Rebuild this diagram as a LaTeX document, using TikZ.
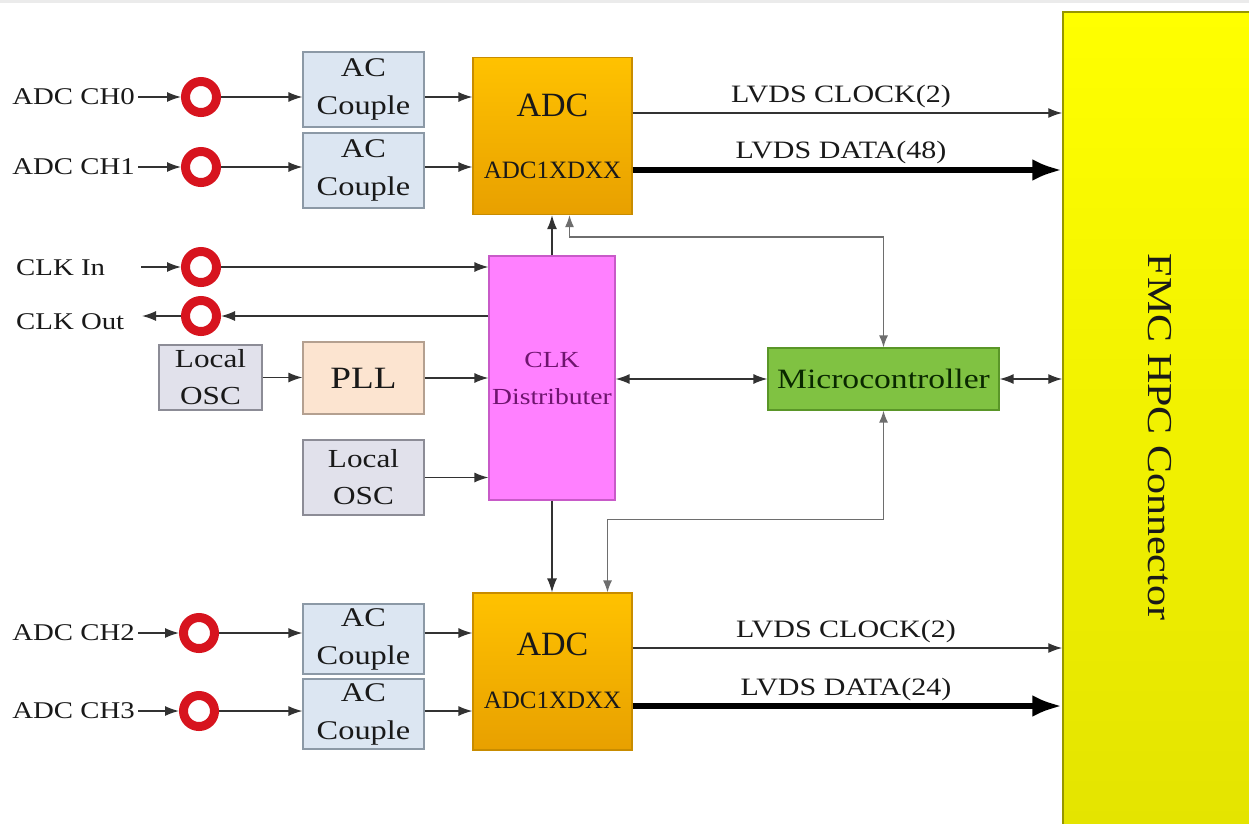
\documentclass[tikz,border=0pt]{standalone}
\usepackage{fontspec}
\setmainfont[FakeStretch=1.2]{Liberation Serif}
\newfontfamily\adcfont{Liberation Serif}
\usetikzlibrary{arrows.meta,calc}
\definecolor{acfill}{RGB}{220,230,242}
\definecolor{acborder}{RGB}{140,153,166}
\definecolor{lofill}{RGB}{225,225,235}
\definecolor{loborder}{RGB}{140,140,150}
\definecolor{pllfill}{RGB}{252,228,208}
\definecolor{pllborder}{RGB}{180,160,144}
\definecolor{adctop}{RGB}{255,194,0}
\definecolor{adcbot}{RGB}{232,160,0}
\definecolor{adcborder}{RGB}{200,140,0}
\definecolor{clkfill}{RGB}{255,128,255}
\definecolor{clkborder}{RGB}{200,90,200}
\definecolor{clktext}{RGB}{110,20,110}
\definecolor{mcufill}{RGB}{128,194,66}
\definecolor{mcuborder}{RGB}{90,150,40}
\definecolor{mcutext}{RGB}{10,40,0}
\definecolor{fmctop}{RGB}{255,255,0}
\definecolor{fmcbot}{RGB}{228,228,0}
\definecolor{fmcborder}{RGB}{150,150,0}
\definecolor{ringred}{RGB}{215,20,30}
\definecolor{txt}{RGB}{25,25,25}
\definecolor{linecol}{RGB}{50,50,50}
\definecolor{ctrlline}{RGB}{110,110,110}
\begin{document}
\begin{tikzpicture}[x=1pt,y=-1pt,
  box/.style={draw, line width=1.2pt, inner sep=0pt, align=center, text=txt},
  acbox/.style={box, draw=acborder, fill=acfill, minimum width=121pt, font=\fontsize{27}{38}\selectfont},
  lobox/.style={box, draw=loborder, fill=lofill, font=\fontsize{26}{37}\selectfont},
  adcbox/.style={box, draw=adcborder, top color=adctop, bottom color=adcbot, minimum width=159pt, minimum height=157pt},
  adctxt/.style={inner sep=0pt, text=txt},
  ring/.style={circle, draw=ringred, line width=9pt, fill=white, minimum size=31pt, inner sep=0pt},
  lbl/.style={inner sep=0pt, text=txt, font=\fontsize{24}{29}\selectfont},
  lvds/.style={inner sep=0pt, text=txt, font=\fontsize{25}{30}\selectfont},
  arr/.style={draw=linecol, line width=1.4pt, -{Latex[length=14pt,width=10pt]}},
  darr/.style={draw=linecol, line width=1.4pt, {Latex[length=14pt,width=10pt]}-{Latex[length=14pt,width=10pt]}},
  carr/.style={draw=ctrlline, line width=1.3pt, {Latex[length=12pt,width=9pt]}-{Latex[length=12pt,width=9pt]}},
  fatarr/.style={draw=black, line width=6pt, -{Latex[length=30pt,width=22pt]}}
]
\useasboundingbox (0,0) rectangle (1249,823);
\fill[white] (0,0) rectangle (1249,823);
\fill[black!8] (0,0) rectangle (1249,3);

% FMC connector
\node[draw=fmcborder, line width=1.5pt, top color=fmctop, bottom color=fmcbot, minimum width=189pt, minimum height=814pt, inner sep=0pt] (fmc) at (1157.5,419) {};
\node[rotate=-90, inner sep=0pt, text=txt, font=\fontsize{35}{40}\selectfont] (fmct) at (1160,437) {FMC HPC Connector};

% ADC boxes
\node[adcbox] (adc1) at (552.5,136) {};
\node[adctxt, font=\adcfont\fontsize{34}{40}\selectfont] (adc1a) at (552.5,105) {ADC};
\node[adctxt, font=\adcfont\fontsize{25}{30}\selectfont] (adc1b) at (552.5,170) {ADC1XDXX};
\node[adcbox] (adc2) at (552.5,671.5) {};
\node[adctxt, font=\adcfont\fontsize{34}{40}\selectfont] (adc2a) at (552.5,644) {ADC};
\node[adctxt, font=\adcfont\fontsize{25}{30}\selectfont] (adc2b) at (552.5,700) {ADC1XDXX};

% AC couple boxes
\node[acbox, minimum height=75pt] (ac1) at (363.5,89.5) {AC\\Couple};
\node[acbox, minimum height=75pt] (ac2) at (363.5,170.5) {AC\\Couple};
\node[acbox, minimum height=70pt] (ac3) at (363.5,639) {AC\\Couple};
\node[acbox, minimum height=70pt] (ac4) at (363.5,714) {AC\\Couple};

% clock section
\node[box, draw=clkborder, fill=clkfill, minimum width=126pt, minimum height=244pt, text=clktext, font=\fontsize{23}{37}\selectfont] (clk) at (552,378) {CLK\\Distributer};
\node[lobox, minimum width=103pt, minimum height=65pt] (lo1) at (210.5,377.5) {Local\\OSC};
\node[box, draw=pllborder, fill=pllfill, minimum width=121pt, minimum height=72pt, font=\fontsize{31}{36}\selectfont] (pll) at (363.5,378) {PLL};
\node[lobox, minimum width=121pt, minimum height=75pt] (lo2) at (363.5,477.5) {Local\\OSC};
\node[box, draw=mcuborder, fill=mcufill, minimum width=231pt, minimum height=62pt, text=mcutext, font=\fontsize{28}{33}\selectfont] (mcu) at (883.5,379) {Microcontroller};

% rings
\node[ring] (r0) at (201,97) {};
\node[ring] (r1) at (201,167) {};
\node[ring] (rin) at (201,267) {};
\node[ring] (rout) at (201,316) {};
\node[ring] (r2) at (199,633) {};
\node[ring] (r3) at (199,711) {};

% labels
\node[lbl, anchor=east] (l0) at (135,97) {ADC CH0};
\node[lbl, anchor=east] (l1) at (135,167) {ADC CH1};
\node[lbl, anchor=west] (lin) at (16,268) {CLK In};
\node[lbl, anchor=west] (lout) at (16,322) {CLK Out};
\node[lbl, anchor=east] (l2) at (135,633) {ADC CH2};
\node[lbl, anchor=east] (l3) at (135,711) {ADC CH3};
\coordinate (inStart) at (141,267);
\coordinate (outEnd) at (142,316);

% LVDS labels
\node[lvds] (t1) at (841,96) {LVDS CLOCK(2)};
\node[lvds] (t2) at (841,152) {LVDS DATA(48)};
\node[lvds] (t3) at (846,631) {LVDS CLOCK(2)};
\node[lvds] (t4) at (846,689) {LVDS DATA(24)};
\coordinate (yc1) at (0,113);
\coordinate (yd1) at (0,170);
\coordinate (yc2) at (0,648);
\coordinate (yd2) at (0,706);

% input arrows
\foreach \l/\r/\a/\d in {l0/r0/ac1/adc1, l1/r1/ac2/adc1, l2/r2/ac3/adc2, l3/r3/ac4/adc2}{
  \draw[arr] ([xshift=3pt]\l.east) -- (\r.west);
  \draw[arr] (\r.east) -- (\r.east -| \a.west);
  \draw[arr] (\a.east |- \r) -- (\d.west |- \r);
}

% clock in / out
\draw[arr] (inStart) -- (rin.west);
\draw[arr] (rin.east) -- (rin.east -| clk.west);
\draw[arr] (rout.east -| clk.west) -- (rout.east);
\draw[arr] (rout.west) -- (outEnd);
\draw[arr] (lo1.east) -- (lo1.east -| pll.west);
\draw[arr] (pll.east) -- (pll.east -| clk.west);
\draw[arr] (lo2.east) -- (lo2.east -| clk.west);

% clock to ADCs
\draw[arr] (clk.north) -- (clk.north |- adc1.south);
\draw[arr] (clk.south) -- (clk.south |- adc2.north);

% microcontroller links
\draw[darr] (clk.east |- mcu.west) -- (mcu.west);
\draw[darr] (mcu.east) -- (mcu.east -| fmc.west);
\draw[carr] (mcu.north) |- ($(adc1.south)+(17,22)$) -- ($(adc1.south)+(17,0)$);
\draw[carr] (mcu.south) |- ($(adc2.north)+(55,-73)$) -- ($(adc2.north)+(55,0)$);

% LVDS outputs
\draw[arr] (adc1.east |- yc1) -- (fmc.west |- yc1);
\draw[fatarr] (adc1.east |- yd1) -- (fmc.west |- yd1);
\draw[arr] (adc2.east |- yc2) -- (fmc.west |- yc2);
\draw[fatarr] (adc2.east |- yd2) -- (fmc.west |- yd2);
\end{tikzpicture}
\end{document}
